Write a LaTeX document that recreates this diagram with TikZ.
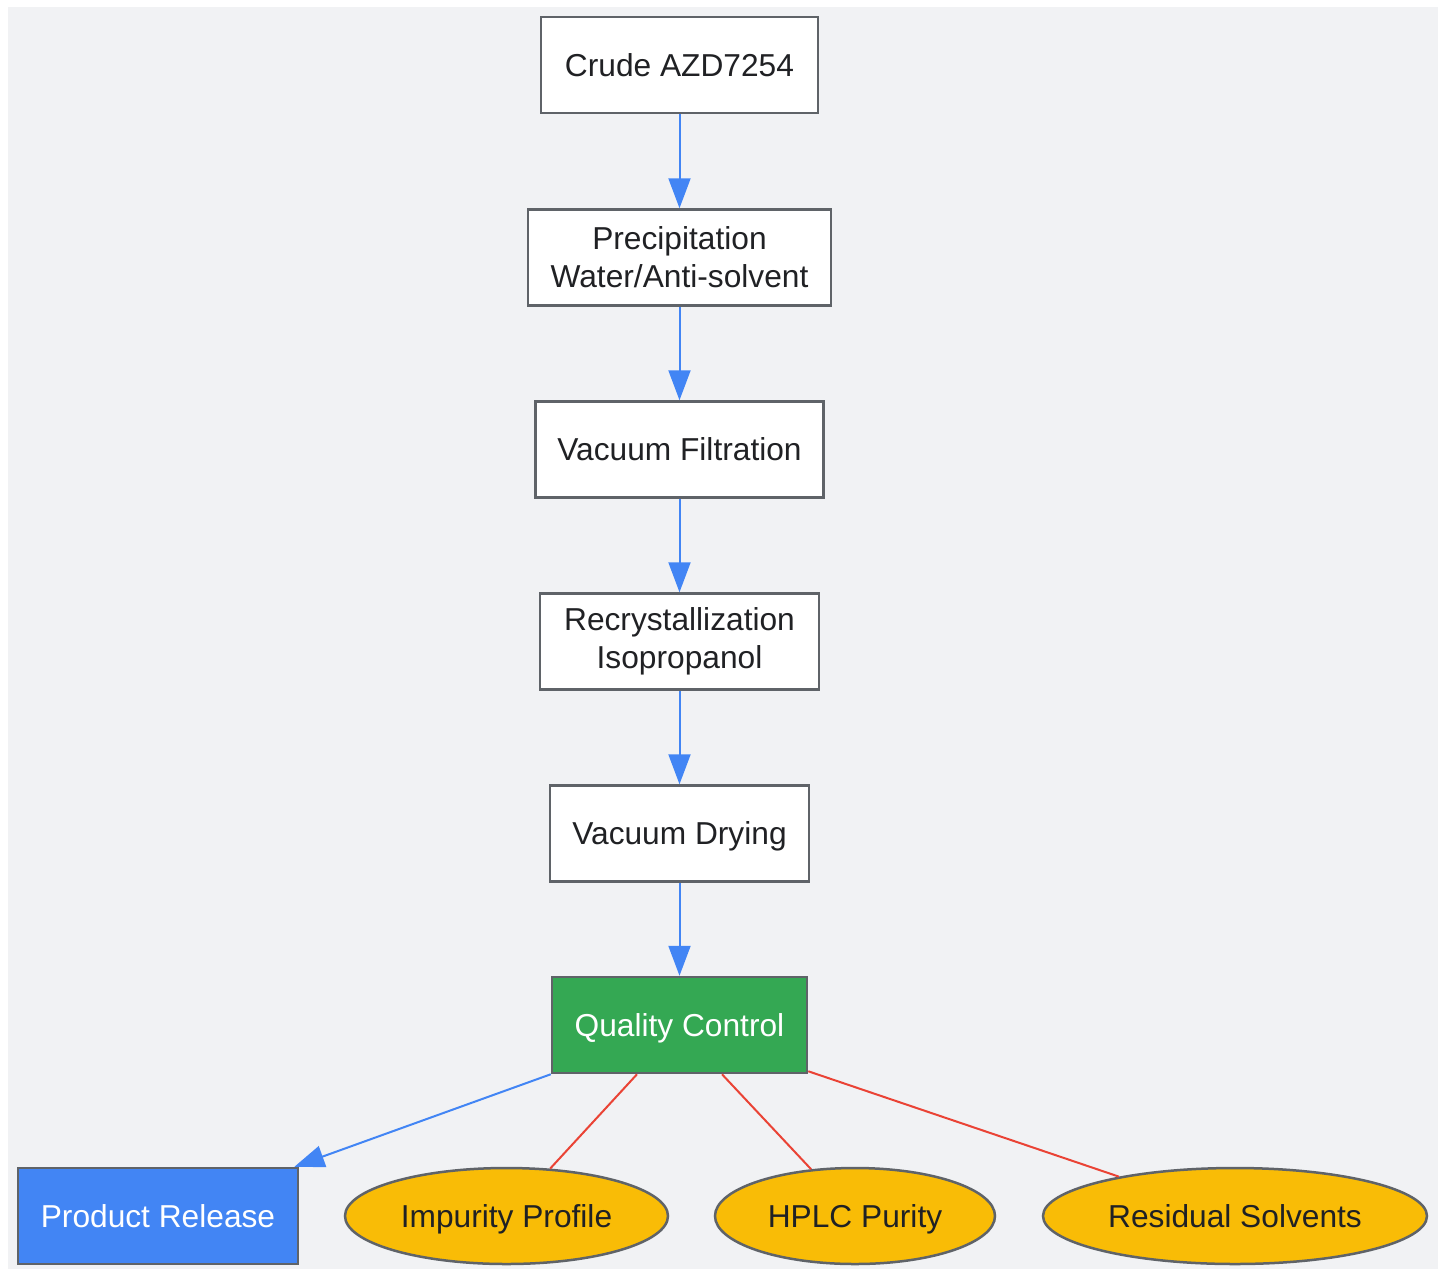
\documentclass[tikz,border=0pt]{standalone}
\usepackage{fontspec}
\setmainfont{Liberation Sans}
\usetikzlibrary{arrows.meta,shapes.geometric}

\definecolor{bggray}{HTML}{F1F2F4}
\definecolor{edgegray}{HTML}{5F6368}
\definecolor{txtdark}{HTML}{202124}
\definecolor{gblue}{HTML}{4285F4}
\definecolor{ggreen}{HTML}{34A853}
\definecolor{gyellow}{HTML}{F9BC06}
\definecolor{gred}{HTML}{EA4335}

\tikzset{
    stepbox/.style={draw=edgegray, line width=2.5pt, fill=white, text=txtdark,
        align=center, inner sep=0pt, minimum height=96pt,
        font=\fontsize{31.7}{38}\selectfont},
    oneline/.style={text height=22.8pt, text depth=0pt},
    checkoval/.style={ellipse, draw=edgegray, line width=2.5pt, fill=gyellow,
        text=txtdark, inner sep=0pt, minimum height=96pt, oneline,
        font=\fontsize{31.7}{38}\selectfont},
    flow/.style={gblue, line width=2pt, -{Triangle[length=30pt,width=22pt]}},
    check/.style={gred, line width=2pt},
}

\begin{document}
\begin{tikzpicture}[x=1pt, y=-1pt]
    \useasboundingbox (0,0) rectangle (1445,1269);
    \fill[bggray] (8,7) rectangle (1438,1269);

    % process steps
    \node[stepbox, oneline, minimum width=277pt] (crude) at (679.5,65) {Crude AZD7254};
    \node[stepbox, minimum width=303pt] (precip) at (679.5,257.5) {Precipitation\\Water/Anti-solvent};
    \node[stepbox, oneline, minimum width=288pt] (filt) at (679.5,449.5) {Vacuum Filtration};
    \node[stepbox, minimum width=279pt] (recryst) at (679.5,641.5) {Recrystallization\\Isopropanol};
    \node[stepbox, oneline, minimum width=259pt] (dry) at (679.5,833.5) {Vacuum Drying};
    \node[stepbox, oneline, minimum width=255pt, fill=ggreen, text=white] (qc) at (679.5,1025) {Quality Control};

    % outcomes
    \node[stepbox, oneline, minimum width=280pt, fill=gblue, text=white] (rel) at (158,1216) {Product Release};
    \node[checkoval, minimum width=323pt] (imp) at (506.5,1216) {Impurity Profile};
    \node[checkoval, minimum width=280pt] (hplc) at (855,1216) {HPLC Purity};
    \node[checkoval, minimum width=384pt] (res) at (1235,1216) {Residual Solvents};

    \draw[flow] (crude) -- (precip);
    \draw[flow] (precip) -- (filt);
    \draw[flow] (filt) -- (recryst);
    \draw[flow] (recryst) -- (dry);
    \draw[flow] (dry) -- (qc);
    \draw[flow] (qc.south west) -- (rel);

    \draw[check] ([xshift=-42.5pt]qc.south) -- (imp);
    \draw[check] ([xshift=42.5pt]qc.south) -- (hplc);
    \draw[check] ([yshift=3pt]qc.south east) -- (res);
\end{tikzpicture}
\end{document}
